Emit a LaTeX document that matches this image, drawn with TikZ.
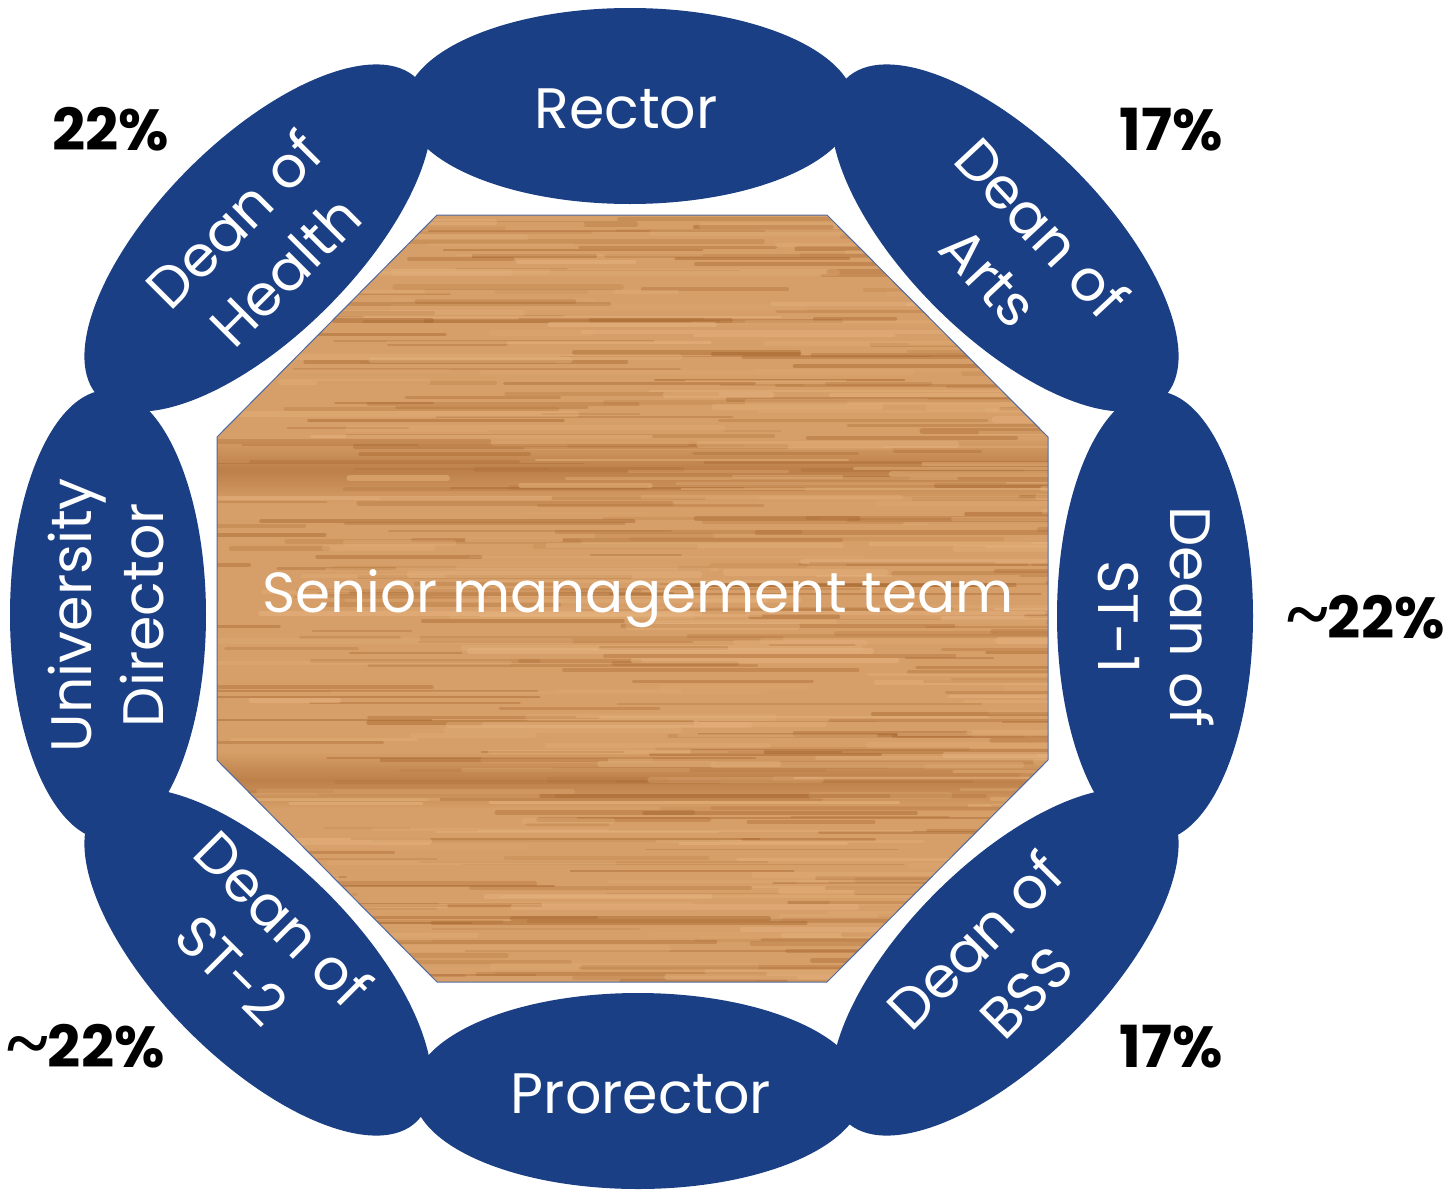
\documentclass[tikz,border=0pt]{standalone}
\usepackage{fontspec}
\setmainfont{Poppins}
\newfontfamily\tildefont{Liberation Serif}
\usetikzlibrary{shapes.geometric}
\definecolor{navy}{RGB}{27,63,132}
\definecolor{woodbase}{RGB}{214,158,104}
\definecolor{woodlight}{RGB}{230,180,128}
\definecolor{wooddark}{RGB}{165,100,45}
\definecolor{octline}{RGB}{80,105,160}
\tikzset{
  ell/.style={ellipse, fill=navy, draw=none, minimum width=450pt, minimum height=196pt, inner sep=0pt, outer sep=0pt},
  lbl/.style={text=white, align=center, font=\fontsize{57}{72}\selectfont, inner sep=0pt},
  pct/.style={text=black, font=\bfseries\fontsize{58}{70}\selectfont, inner sep=0pt, anchor=base},
  tld/.style={font=\tildefont\bfseries\fontsize{76}{80}\selectfont},
  streakdark/.style={draw=wooddark, line cap=round},
  streaklight/.style={draw=woodlight, line cap=round},
}
\newcommand{\bigtilde}{{\tildefont\bfseries\fontsize{78}{80}\selectfont\raisebox{-2pt}{\char`\~}}}
\begin{document}
\begin{tikzpicture}[x=1pt,y=-1pt]
\useasboundingbox (0,0) rectangle (1446,1189);
% ring of ellipses
\node[ell] (rector) at (630,106) {};
\node[ell] (prorector) at (638,1091) {};
\node[ell, rotate=90] (udir) at (108,615) {};
\node[ell, rotate=90] (st1) at (1155,616) {};
\node[ell, rotate=45] (health) at (258,238) {};
\node[ell, rotate=-45] (arts) at (1005,238) {};
\node[ell, rotate=-45] (st2) at (258,962) {};
\node[ell, rotate=45] (bss) at (1005,962) {};
% octagon table with wood texture
\coordinate (o1) at (437,215);
\coordinate (o2) at (827,215);
\coordinate (o3) at (1048,437);
\coordinate (o4) at (1048,760);
\coordinate (o5) at (827,982);
\coordinate (o6) at (437,982);
\coordinate (o7) at (217,760);
\coordinate (o8) at (217,437);
\begin{scope}
  \clip (o1) -- (o2) -- (o3) -- (o4) -- (o5) -- (o6) -- (o7) -- (o8) -- cycle;
  \fill[woodbase] (217,215) rectangle (1048,982);
  \shade[top color=woodbase, bottom color=woodbase, middle color=wooddark!60!woodbase, opacity=0.85] (217,438) rectangle (1048,502);
  \shade[top color=woodbase, bottom color=woodbase, middle color=wooddark!60!woodbase, opacity=0.85] (217,752) rectangle (1048,808);
  \pgfmathsetseed{11}
  \foreach \i in {1,...,320}{
    \pgfmathsetmacro{\yy}{212+rnd*775}
    \pgfmathsetmacro{\xx}{150+rnd*900}
    \pgfmathsetmacro{\ll}{80+rnd*380}
    \pgfmathsetmacro{\op}{0.12+0.35*rnd}
    \pgfmathsetmacro{\lw}{1.5+4*rnd}
    \draw[streakdark, line width=\lw pt, opacity=\op] (\xx,\yy) -- ++(\ll,0);
  }
  \foreach \i in {1,...,220}{
    \pgfmathsetmacro{\yy}{212+rnd*775}
    \pgfmathsetmacro{\xx}{150+rnd*900}
    \pgfmathsetmacro{\ll}{80+rnd*380}
    \pgfmathsetmacro{\op}{0.15+0.4*rnd}
    \pgfmathsetmacro{\lw}{2+5*rnd}
    \draw[streaklight, line width=\lw pt, opacity=\op] (\xx,\yy) -- ++(\ll,0);
  }
\end{scope}
\draw[octline, line width=1pt] (o1) -- (o2) -- (o3) -- (o4) -- (o5) -- (o6) -- (o7) -- (o8) -- cycle;
\node[text=white, font=\fontsize{56.5}{70}\selectfont, inner sep=0pt, anchor=base] (smt) at (638,612) {Senior management team};
% labels
\node[lbl, anchor=base] (trector) at (626,128) {Rector};
\node[lbl, anchor=base] (tprorector) at (641,1113) {Prorector};
\node[lbl, rotate=90] (tudir) at (106,615) {University\\Director};
\node[lbl, rotate=-90] (tst1) at (1156,617) {Dean of\\ST-1};
\node[lbl, rotate=45] (thealth) at (259,245) {Dean of\\Health};
\node[lbl, rotate=-47] (tarts) at (1016,252) {Dean of\\Arts};
\node[lbl, rotate=-45] (tst2) at (258,944) {Dean of\\ST-2};
\node[lbl, rotate=45] (tbss) at (1000,966) {Dean of\\BSS};
% percentages
\node[pct] (p1) at (111,150) {22\%};
\node[pct] (p2) at (1171,150) {17\%};
\node[pct] (p3) at (1366,638) {\bigtilde22\%};
\node[pct] (p4) at (86,1067) {\bigtilde22\%};
\node[pct] (p5) at (1171,1067) {17\%};
\end{tikzpicture}
\end{document}
